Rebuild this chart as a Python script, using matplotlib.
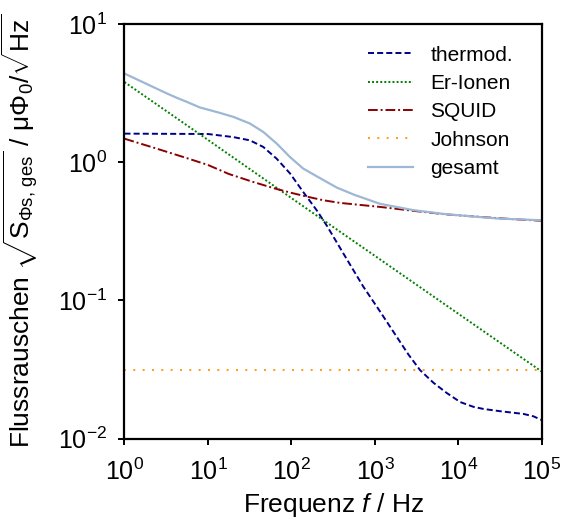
import matplotlib
matplotlib.use("Agg")
import matplotlib.pyplot as plt

plt.rcParams['font.family'] = ['Liberation Sans', 'DejaVu Sans']
plt.rcParams['mathtext.fontset'] = 'custom'
plt.rcParams['mathtext.rm'] = 'Liberation Sans'
plt.rcParams['mathtext.it'] = 'Liberation Sans:italic'
plt.rcParams['mathtext.bf'] = 'Liberation Sans:bold'

# thermodynamic noise
f_thermo = [1, 10, 20.1, 31.8, 45.9, 66.5, 96, 138, 200, 263, 457, 724, 1150,
            1820, 2510, 3470, 5010, 7240, 10500, 15100, 20000, 31600, 60300, 79400, 100000]
s_thermo = [1.61, 1.60, 1.52, 1.44, 1.29, 1.06, 0.83, 0.61, 0.45, 0.350, 0.200, 0.126, 0.0832,
            0.0546, 0.0407, 0.0313, 0.0254, 0.0214, 0.0184, 0.0170, 0.0164, 0.0158, 0.0151, 0.0145, 0.0136]

# Er ions
f_er = [1, 10, 100, 1000, 10000, 100000]
s_er = [3.8, 1.45, 0.55, 0.21, 0.08, 0.0305]

# SQUID
f_squid = [1, 2.37, 5.6, 10, 17.8, 34.7, 63, 100, 151, 240, 380, 1150, 2880, 7240, 18200, 45700, 100000]
s_squid = [1.48, 1.26, 1.07, 0.955, 0.822, 0.72, 0.646, 0.60, 0.565, 0.531, 0.508, 0.475, 0.445, 0.419, 0.402, 0.387, 0.377]

# Johnson
f_john = [1, 100000]
s_john = [0.0316, 0.0316]

# total
f_ges = [1, 1.78, 3.16, 4.2, 5.6, 8.0, 13, 20.1, 31.8, 45.9, 66.5, 96, 138, 200, 348, 562,
         1150, 2880, 7240, 28800, 100000]
s_ges = [4.38, 3.72, 3.16, 2.93, 2.73, 2.49, 2.30, 2.13, 1.905, 1.656, 1.365, 1.09, 0.90, 0.792, 0.656, 0.582,
         0.50, 0.45, 0.42, 0.392, 0.38]

fig = plt.figure(figsize=(5.62, 5.25), dpi=100)
ax = fig.add_axes([0.2215, 0.1644, 0.7429, 0.7899])

ax.plot(f_thermo, s_thermo, color='#00008b', ls=(0, (3.1, 1.6)), lw=1.4, label='thermod.')
ax.plot(f_er, s_er, color='#008000', ls=(0, (1, 1.1)), lw=1.4, label='Er-Ionen')
ax.plot(f_squid, s_squid, color='#8b0000', ls=(0, (5, 1.5, 1, 1.5)), lw=1.4, label='SQUID')
ax.plot(f_john, s_john, color='#ff9a1a', ls=(0, (1, 3.8)), lw=1.4, label='Johnson')
ax.plot(f_ges, s_ges, color='#9db7d4', ls='-', lw=1.6, label='gesamt')

ax.set_xscale('log')
ax.set_yscale('log')
ax.set_xlim(1, 1e5)
ax.set_ylim(1e-2, 1e1)
ax.minorticks_off()
ax.set_xticks([1, 10, 100, 1e3, 1e4, 1e5])
ax.set_yticks([1e-2, 1e-1, 1, 10])

for sp in ax.spines.values():
    sp.set_linewidth(1.6)
ax.tick_params(which='major', direction='out', length=4.5, width=1.4, labelsize=18)
ax.tick_params(axis='x', pad=9.5)
ax.tick_params(axis='y', pad=8)

ax.set_xlabel('Frequenz $f$ / Hz', fontsize=19, labelpad=5)
ax.set_ylabel('Flussrauschen $\\sqrt{\\mathrm{S}_{\\mathrm{\\Phi s,\\,ges}}}$ / μΦ$_0$/$\\sqrt{\\mathrm{Hz}}$',
              fontsize=19, labelpad=13)

ax.legend(loc='upper right', bbox_to_anchor=(0.95, 0.968), borderaxespad=0, frameon=False,
          fontsize=15, handlelength=2.2, handletextpad=0.8, labelspacing=0.45)

fig.savefig('out.png', dpi=100)
